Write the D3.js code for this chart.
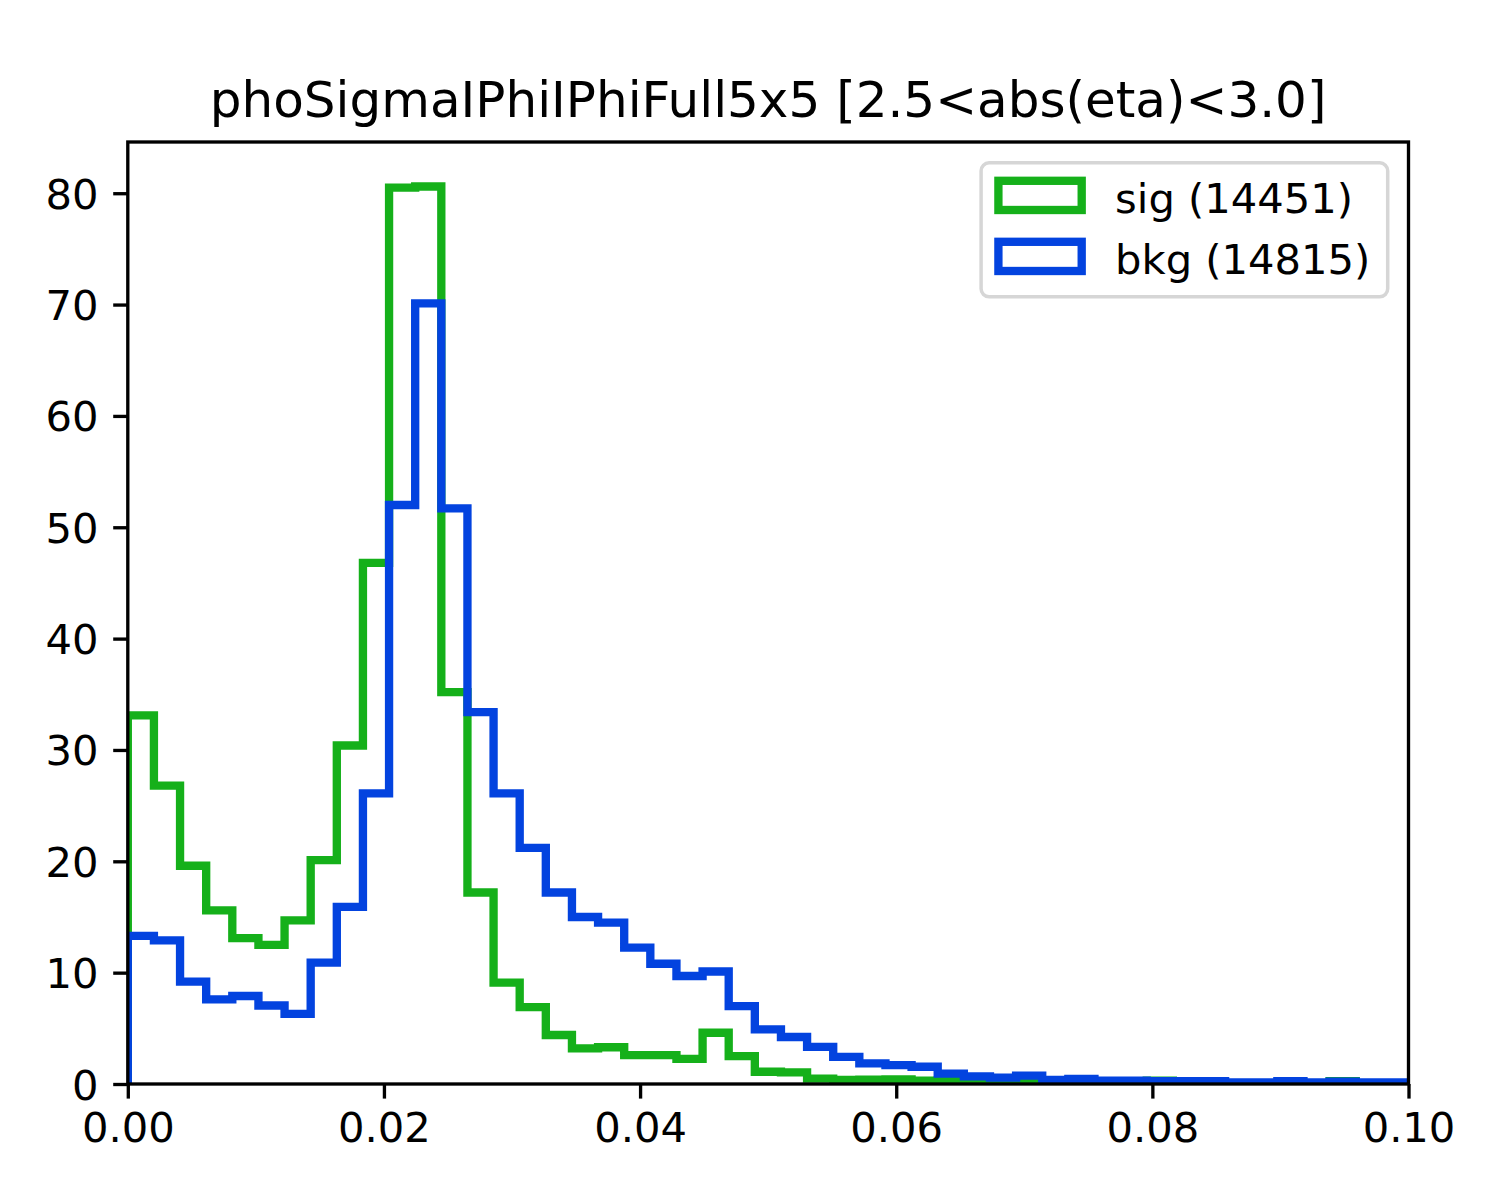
<!DOCTYPE html>
<html>
<head>
<meta charset="utf-8">
<script src="https://cdn.jsdelivr.net/npm/d3@7"></script>
<style>
  body { margin: 0; background: #fff; }
  svg { display: block; }
  text { font-family: "DejaVu Sans", sans-serif; fill: #000; }
</style>
</head>
<body>
<div id="chart"></div>
<script>
// histogram binning: 50 equal bins starting at 0
const binCount = 50;
const binLo = 0;
const binHi = 0.102;

// normalised bin contents
const sigDensity = [
  33.1, 26.8, 19.6, 15.6, 13.1, 12.5, 14.7, 20.1, 30.4, 46.8,
  80.5, 80.6, 35.2, 17.2, 9.1, 6.9, 4.4, 3.2, 3.3, 2.6,
  2.6, 2.25, 4.6, 2.5, 1.1, 1.05, 0.48, 0.36, 0.38, 0.42,
  0.3, 0.33, 0.22, 0.18, 0.33, 0.1, 0.12, 0.08, 0.1, 0.3,
  0.1, 0.05, 0.05, 0.05, 0.05, 0.05, 0.25, 0.05, 0.05, 0.05
];
const bkgDensity = [
  13.3, 12.9, 9.2, 7.6, 7.9, 7.05, 6.3, 10.9, 15.9, 26.1,
  52.0, 70.1, 51.7, 33.4, 26.1, 21.2, 17.2, 15.0, 14.5, 12.25,
  10.8, 9.7, 10.1, 7.0, 4.9, 4.22, 3.33, 2.44, 1.85, 1.7,
  1.55, 0.93, 0.69, 0.57, 0.75, 0.36, 0.45, 0.3, 0.3, 0.25,
  0.25, 0.25, 0.15, 0.15, 0.25, 0.15, 0.2, 0.15, 0.15, 0.1
];

const seriesLabels = ["sig (14451)", "bkg (14815)"];
const seriesColors = ["#15b01a", "#0343df"];
const chartTitle = "phoSigmaIPhiIPhiFull5x5 [2.5<abs(eta)<3.0]";

const xTicks = [0, 0.02, 0.04, 0.06, 0.08, 0.1];
const yTicks = [0, 10, 20, 30, 40, 50, 60, 70, 80];

const W = 1500, H = 1200;
const margin = { top: 142, right: 91.5, bottom: 116, left: 127.8 };
const width = W - margin.left - margin.right;
const height = H - margin.top - margin.bottom;
const fontPx = 41.67;
const spineW = 3.33;

const svg = d3.select("#chart")
  .append("svg")
  .attr("width", W)
  .attr("height", H);

const g = svg.append("g")
  .attr("transform", `translate(${margin.left},${margin.top})`);

const xScale = d3.scaleLinear().domain([0, 0.1]).range([0, width]);
const yScale = d3.scaleLinear().domain([0, 84.6]).range([height, 0]);

svg.append("defs").append("clipPath")
  .attr("id", "plot-clip")
  .append("rect")
  .attr("width", width)
  .attr("height", height);

const binEdges = d3.range(binCount + 1).map(i => binLo + (binHi - binLo) * i / binCount);

// outline of a step histogram: up from the baseline, across each bin, back down
function stepPoints(values) {
  const pts = [[binEdges[0], 0]];
  values.forEach((v, i) => {
    pts.push([binEdges[i], v]);
    pts.push([binEdges[i + 1], v]);
  });
  pts.push([binEdges[binCount], 0]);
  return pts;
}

const line = d3.line()
  .x(d => xScale(d[0]))
  .y(d => yScale(d[1]));

const plot = g.append("g").attr("clip-path", "url(#plot-clip)");

[sigDensity, bkgDensity].forEach((vals, i) => {
  plot.append("path")
    .datum(stepPoints(vals))
    .attr("d", line)
    .attr("fill", "none")
    .attr("stroke", seriesColors[i])
    .attr("stroke-width", 8.33)
    .attr("stroke-linejoin", "miter")
    .attr("stroke-linecap", "butt");
});

// axes
const xAxis = d3.axisBottom(xScale)
  .tickValues(xTicks)
  .tickFormat(d3.format(".2f"))
  .tickSize(14.6)
  .tickPadding(14)
  .tickSizeOuter(0);

const yAxis = d3.axisLeft(yScale)
  .tickValues(yTicks)
  .tickFormat(d3.format("d"))
  .tickSize(14.6)
  .tickPadding(14.6)
  .tickSizeOuter(0);

g.append("g")
  .attr("transform", `translate(0,${height})`)
  .call(xAxis)
  .call(a => a.select(".domain").remove())
  .call(a => a.selectAll(".tick line").attr("stroke-width", spineW))
  .call(a => a.selectAll(".tick text")
    .style("font-size", fontPx + "px")
    .style("font-family", "DejaVu Sans"));

g.append("g")
  .call(yAxis)
  .call(a => a.select(".domain").remove())
  .call(a => a.selectAll(".tick line").attr("stroke-width", spineW))
  .call(a => a.selectAll(".tick text")
    .attr("dy", "0.36em")
    .style("font-size", fontPx + "px")
    .style("font-family", "DejaVu Sans"));

// frame
g.append("rect")
  .attr("width", width)
  .attr("height", height)
  .attr("fill", "none")
  .attr("stroke", "#000")
  .attr("stroke-width", spineW);

// title
g.append("text")
  .attr("x", width / 2)
  .attr("y", -25)
  .attr("text-anchor", "middle")
  .style("font-size", "50px")
  .text(chartTitle);

// legend
const legend = g.append("g")
  .attr("transform", `translate(${width - 20.8 - 406.6},${20.8})`);

legend.append("rect")
  .attr("width", 406.6)
  .attr("height", 134)
  .attr("rx", 8)
  .attr("fill", "#fff")
  .attr("fill-opacity", 0.8)
  .attr("stroke", "#d6d6d6")
  .attr("stroke-width", 3.5);

seriesLabels.forEach((label, i) => {
  const row = legend.append("g").attr("transform", `translate(0,${i * 61})`);
  row.append("rect")
    .attr("x", 17.3)
    .attr("y", 18)
    .attr("width", 83.3)
    .attr("height", 29.2)
    .attr("fill", "none")
    .attr("stroke", seriesColors[i])
    .attr("stroke-width", 8.33);
  row.append("text")
    .attr("x", 134)
    .attr("y", 50)
    .style("font-size", fontPx + "px")
    .text(label);
});
</script>
</body>
</html>
